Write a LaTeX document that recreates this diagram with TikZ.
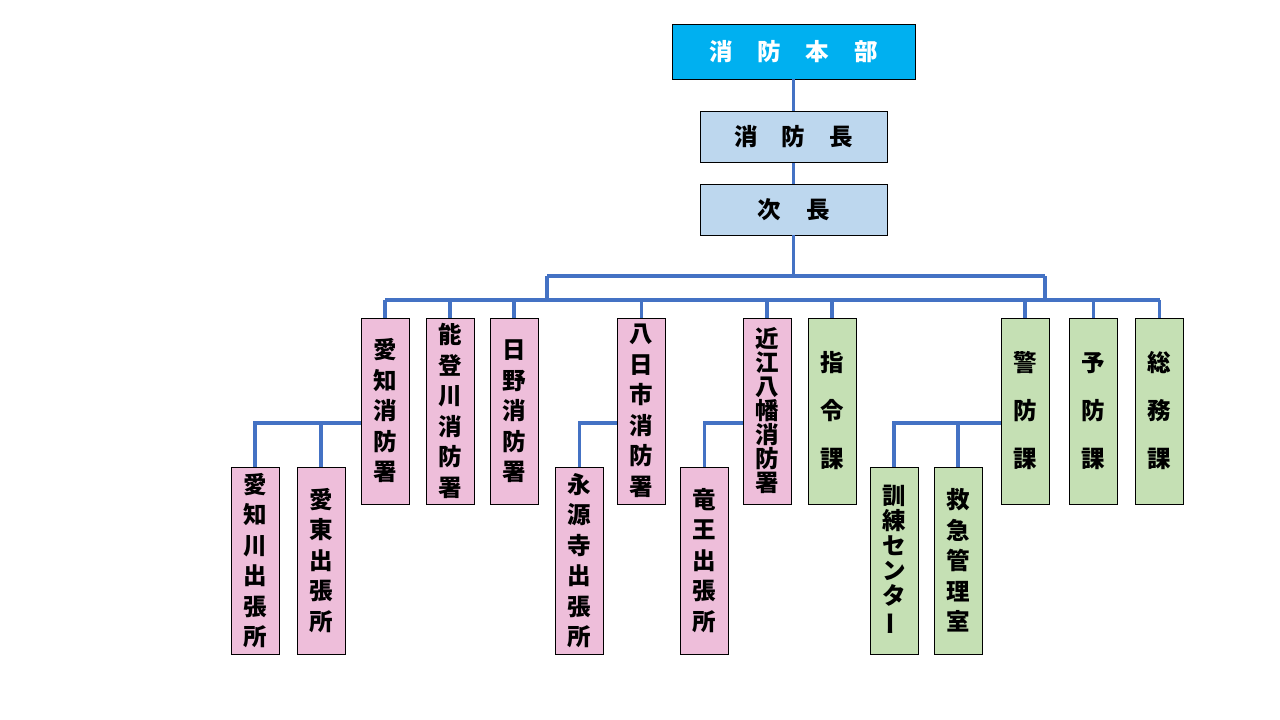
\documentclass[tikz,border=0pt]{standalone}
\usepackage{fontspec}
\setmainfont{Noto Sans CJK JP}
\definecolor{hqc}{HTML}{00B0F0}
\definecolor{bluec}{HTML}{BDD7EE}
\definecolor{pinkc}{HTML}{EEBEDA}
\definecolor{greenc}{HTML}{C5E0B4}
\definecolor{linec}{HTML}{4472C4}
\lineskiplimit=-100pt
\begin{document}
\begin{tikzpicture}[x=1pt,y=-1pt,
  boxbase/.style={draw=black,line width=0.9pt,inner sep=0pt,align=center},
  hbox/.style={boxbase,fill=bluec,minimum width=187,minimum height=51,font=\bfseries\fontsize{23.5}{26}\selectfont},
  vbox/.style={boxbase,minimum width=48,minimum height=186},
  pinkbox/.style={vbox,fill=pinkc},
  greenbox/.style={vbox,fill=greenc},
  sp30/.style={font=\bfseries\fontsize{23.5}{30.5}\selectfont},
  sp24/.style={font=\bfseries\fontsize{23.5}{24}\selectfont},
  sp25/.style={font=\bfseries\fontsize{23.5}{25}\selectfont},
  sp48/.style={font=\bfseries\fontsize{23.5}{48}\selectfont},
  conn/.style={draw=linec,line width=3.2pt}]
\useasboundingbox (0,0) rectangle (1280,720);
% top
\node[boxbase,fill=hqc,minimum width=243,minimum height=55,text=white,font=\bfseries\fontsize{23.5}{26}\selectfont] (hq) at (793.5,51.5) {消\hspace{25pt}防\hspace{25pt}本\hspace{25pt}部};
\node[hbox] (chief) at (793.5,137) {消\hspace{24pt}防\hspace{24pt}長};
\node[hbox] (deputy) at (793.5,209.5) {次\hspace{25.5pt}長};
% second row
\node[pinkbox,sp30] (aichi) at (385,411) {愛\\知\\消\\防\\署};
\node[pinkbox,sp30] (notogawa) at (450,411) {能\\登\\川\\消\\防\\署};
\node[pinkbox,sp30] (hino) at (514,411.5) {日\\野\\消\\防\\署};
\node[pinkbox,sp30] (yokaichi) at (641.5,411) {八\\日\\市\\消\\防\\署};
\node[pinkbox,sp24] (omi) at (767,411) {近\\江\\八\\幡\\消\\防\\署};
\node[greenbox,sp48] (shirei) at (832,411) {指\\令\\課};
\node[greenbox,sp48] (keibo) at (1025,411) {警\\防\\課};
\node[greenbox,sp48] (yobo) at (1093.5,411) {予\\防\\課};
\node[greenbox,sp48] (somu) at (1159.5,411) {総\\務\\課};
% third row
\node[pinkbox,sp30,minimum height=187] (aichigawa) at (255,560.5) {愛\\知\\川\\出\\張\\所};
\node[pinkbox,sp30,minimum height=187] (aito) at (321,560.5) {愛\\東\\出\\張\\所};
\node[pinkbox,sp30,minimum height=187] (eigenji) at (579.5,560.5) {永\\源\\寺\\出\\張\\所};
\node[pinkbox,sp30,minimum height=187] (ryuo) at (704.5,560.5) {竜\\王\\出\\張\\所};
\node[greenbox,sp25,minimum height=187] (kunren) at (894,560.5) {訓\\練\\セ\\ン\\タ\\\rotatebox[origin=c]{90}{ー}};
\node[greenbox,sp30,minimum height=187] (kyukyu) at (958,560.5) {救\\急\\管\\理\\室};
% buses
\coordinate (b1L) at (547,276);
\coordinate (b1R) at (1045,276);
\coordinate (b2L) at (385,300);
\coordinate (b2R) at (1159.5,300);
\draw[conn] (hq.south) -- (chief.north);
\draw[conn] (chief.south) -- (deputy.north);
\draw[conn] (deputy.south) -- (deputy.south |- b1L);
\draw[conn] (b1L) -- (b1R);
\draw[conn] (b1L) -- (b1L |- b2L);
\draw[conn] (b1R) -- (b1R |- b2L);
\draw[conn] (b2L) -- (b2R);
\foreach \n in {aichi,notogawa,hino,yokaichi,omi,shirei,keibo,yobo,somu}
  \draw[conn] (\n.north) -- (\n.north |- b2L);
% branches
\coordinate (jA) at (aichi.west |- 0,423);
\draw[conn] (jA) -- (jA -| aichigawa.north) -- (aichigawa.north);
\draw[conn] (jA -| aito.north) -- (aito.north);
\coordinate (jY) at (yokaichi.west |- 0,423);
\draw[conn] (jY) -- (jY -| eigenji.north) -- (eigenji.north);
\coordinate (jO) at (omi.west |- 0,423);
\draw[conn] (jO) -- (jO -| ryuo.north) -- (ryuo.north);
\coordinate (jK) at (keibo.west |- 0,423);
\draw[conn] (jK) -- (jK -| kunren.north) -- (kunren.north);
\draw[conn] (jK -| kyukyu.north) -- (kyukyu.north);
\end{tikzpicture}
\end{document}
